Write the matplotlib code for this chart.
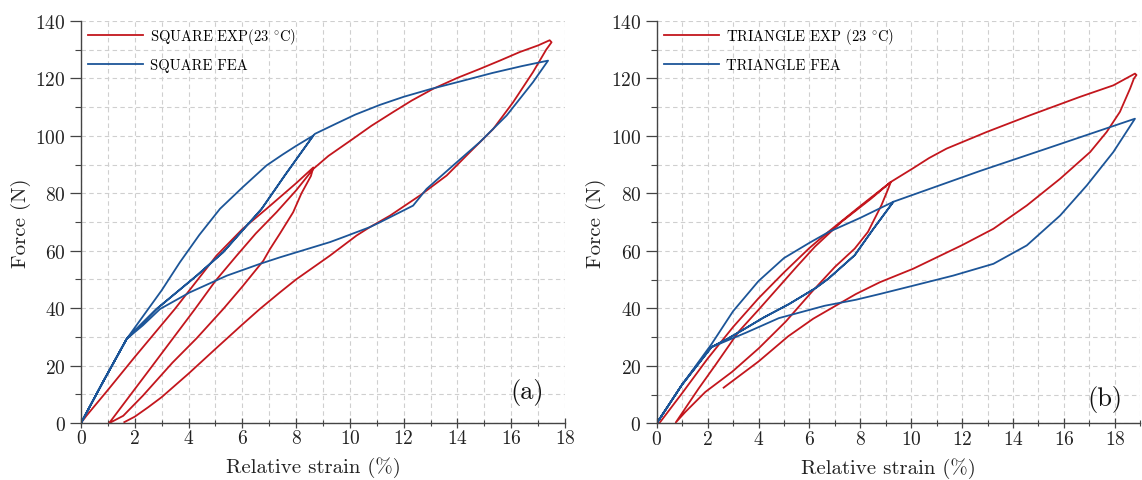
import matplotlib
matplotlib.use("Agg")
import matplotlib.pyplot as plt
from matplotlib.ticker import MultipleLocator

plt.rcParams['font.family'] = ['cmr10', 'DejaVu Serif']
plt.rcParams['mathtext.fontset'] = 'cm'
plt.rcParams['axes.formatter.use_mathtext'] = True

# ---------------- data: (a) square ----------------
sq_exp_x = [0, 0.2, 1, 2, 3.49, 5.04, 6.0, 6.9, 8.0, 8.64,
            8.55, 8.2, 7.89, 7.4, 7.03, 6.78, 6.0, 5.29, 4.3, 3.4, 2.3, 1.57, 1.1,
            1.05, 2.5, 4.24, 5.0, 5.79, 6.5, 7.27, 8.0, 8.64,
            9.2, 10.12, 10.8, 11.61, 12.3, 13.1, 14.0, 14.83, 15.6, 16.32, 17.0, 17.43, 17.5,
            17.3, 16.81, 16.07, 15.33, 14.46, 13.6, 12.6, 11.49, 10.74, 10.25,
            9.26, 8.0, 7.4, 6.65, 6.0, 5.0, 4.0, 3.0, 2.5, 2.0, 1.61]
sq_exp_y = [0, 2.5, 11.5, 23, 39.7, 58.3, 67.5, 74.6, 83.5, 89,
            86, 80, 73.4, 66, 60.6, 56.5, 47.5, 39.7, 29.5, 21, 9.5, 2.5, 0.2,
            0, 18, 39.7, 49.5, 58.3, 66, 73.4, 81, 88.5,
            93, 99, 103.5, 108.3, 112.3, 116.4, 120.2, 123.3, 126.3, 129.2, 131.5, 133.3, 132.6,
            130, 122.2, 111.7, 102.4, 94.3, 86.2, 79.2, 72.2, 68.2, 65.3,
            58.3, 50, 45.5, 39.7, 34.3, 25.8, 17.2, 9, 5.5, 2.2, 0.3]

sq_fea_x = [0, 0.8, 1.7, 2.5, 3.0, 3.68, 4.4, 5.17, 6.0, 6.9, 7.5, 8.0, 8.64,
            7.6, 6.72, 5.29, 4.3, 2.81, 2.2, 1.7, 0.8, 0,
            0.8, 1.7, 2.2, 2.81, 4.3, 5.29, 6.72, 7.6, 8.64,
            8.7, 9.5, 10.2, 11.12, 12.0, 13.0, 14.0, 15.3, 16.4, 17.37,
            16.81, 15.83, 14.83, 13.84, 12.85, 12.35, 11.12, 10.74, 9.75,
            9.26, 7.4, 6.65, 5.42, 4.05, 2.94, 2.3, 1.7, 0.8, 0]
sq_fea_y = [0, 14, 29.3, 39.7, 46.2, 56, 65.5, 74.6, 82, 89.7, 93.5, 96.5, 100.1,
            86.5, 74.6, 59.5, 51.3, 39.7, 34, 29.3, 14, 0,
            14, 29.3, 34, 39.7, 51.3, 59.5, 74.6, 86.5, 100.1,
            100.7, 104.3, 107.4, 110.8, 113.6, 116.3, 118.7, 121.9, 124.3, 126.2,
            118.7, 107.1, 97.8, 89.7, 81.5, 75.7, 69.9, 68.2, 64.7,
            63, 57.7, 55.4, 51.3, 45.5, 39.7, 34, 29.3, 14, 0]

# ---------------- data: (b) triangle ----------------
tri_exp_x = [0.1, 1, 2, 3, 4, 5, 6, 6.74, 8.04, 9.2,
             9.1, 8.83, 8.3, 7.78, 7.0, 6.09, 5.07, 4.01, 2.96, 1.91, 1.12, 0.75,
             1.64, 2.3, 3.22, 4.0, 4.8, 5.5, 6.22, 7.26, 8.44, 9.2,
             10.08, 10.7, 11.39, 12.97, 14.67, 16.63, 17.94, 18.79, 18.85,
             18.75, 18.6, 18.2, 17.68, 17.03, 15.85, 14.54, 13.23, 12.0,
             10.08, 8.77, 7.83, 6.15, 5.17, 4.0, 2.63]
tri_exp_y = [0, 10.5, 22.5, 33.5, 43.5, 52.5, 61, 66.6, 75.9, 84,
             81.7, 75.9, 66.6, 60.8, 54.4, 45.7, 35.4, 26.1, 17.9, 10.9, 3.9, 0.3,
             12, 20.2, 31.9, 39.5, 47.5, 54.5, 61.5, 70.1, 78.3, 84,
             88.8, 92.3, 95.6, 101.4, 107.2, 113.6, 117.6, 121.7, 121.2,
             120, 116.5, 108.4, 101.4, 94.4, 85.1, 75.8, 67.7, 62,
             53.8, 49.1, 45, 36.4, 30.3, 21.5, 12.4]

tri_fea_x = [0, 1, 2.15, 3, 4, 5, 6, 6.74, 8, 9.3,
             8.5, 7.78, 6.74, 6.25, 5.2, 4.2, 3.48, 2.8, 2.15, 1, 0,
             1, 2.15, 2.8, 3.48, 4.2, 5.2, 6.25, 6.74, 7.78, 8.5, 9.3,
             12.7, 15.32, 18.79,
             17.94, 16.9, 15.85, 14.54, 13.23, 11.65, 10.08, 8.77, 7.83, 6.6,
             4.8, 3.5, 2.15, 1, 0]
tri_fea_y = [0, 13.5, 27.5, 39, 49.5, 57.5, 62.8, 66.5, 71.5, 77.1,
             67.5, 58.5, 50.3, 47.1, 41.5, 36.8, 33, 29.5, 26.5, 13.5, 0,
             13.5, 26.5, 29.5, 33, 36.8, 41.5, 47.1, 50.3, 58.5, 67.5, 77.1,
             87.8, 95.6, 106,
             94.4, 82.8, 72.3, 61.9, 55.5, 51.4, 47.9, 45, 43, 40.9,
             36.6, 31.5, 26.5, 13.5, 0]

x_ticks_a = [0, 2, 4, 6, 8, 10, 12, 14, 16, 18]
x_ticks_b = [0, 2, 4, 6, 8, 10, 12, 14, 16, 18]
y_ticks = [0, 20, 40, 60, 80, 100, 120, 140]

RED = '#c3161d'
BLUE = '#1c5598'
GRID = '#cfcfcf'

W, H = 1142, 481
fig = plt.figure(figsize=(W / 100, H / 100), dpi=100)
axL = fig.add_axes([81 / W, (H - 424) / H, 484 / W, 402 / H])
axR = fig.add_axes([656.7 / W, (H - 424.3) / H, 483.6 / W, 402.3 / H])


def style(ax, xmax, xticks, tag, tagx, tagy):
    ax.set_xlim(0, xmax)
    ax.set_ylim(0, 140)
    ax.set_xticks(xticks)
    ax.set_yticks(y_ticks)
    ax.xaxis.set_minor_locator(MultipleLocator(1))
    ax.yaxis.set_minor_locator(MultipleLocator(10))
    ax.grid(True, which='both', color=GRID, linestyle=(0, (4, 3)), linewidth=0.8)
    ax.set_axisbelow(True)
    for s in ('top', 'right'):
        ax.spines[s].set_visible(False)
    for s in ('left', 'bottom'):
        ax.spines[s].set_color('#444444')
        ax.spines[s].set_linewidth(1.0)
    ax.tick_params(axis='y', which='major', direction='out', length=8, width=0.9,
                   labelsize=14, pad=3, colors='#444444', labelcolor='#222222')
    ax.tick_params(axis='y', which='minor', direction='out', length=4.5, width=0.8,
                   colors='#444444')
    ax.tick_params(axis='x', which='major', direction='inout', length=7, width=0.9,
                   labelsize=14, pad=1, colors='#444444', labelcolor='#222222')
    ax.tick_params(axis='x', which='minor', direction='inout', length=5, width=0.8,
                   colors='#444444')
    ax.set_xlabel('Relative strain (%)', fontsize=15, color='#222222')
    ax.set_ylabel('Force (N)', fontsize=15, color='#222222')
    ax.xaxis.set_label_coords(0.48, -0.083)
    ax.yaxis.set_label_coords(-0.104, 0.5)
    ax.text(tagx, tagy, tag, ha='center', va='center', fontsize=19, color='#111111')
    ax.legend(loc='upper left', bbox_to_anchor=(0.0145, 0.988), frameon=False,
              fontsize=10.5, handlelength=3.8, handletextpad=0.45,
              labelspacing=0.85, borderaxespad=0, borderpad=0)


axL.plot(sq_exp_x, sq_exp_y, color=RED, lw=1.3, label='SQUARE EXP(23 $^{\\circ}$C)')
axL.plot(sq_fea_x, sq_fea_y, color=BLUE, lw=1.3, label='SQUARE FEA')
style(axL, 18, x_ticks_a, '(a)', 16.6, 10.8)

axR.plot(tri_exp_x, tri_exp_y, color=RED, lw=1.3, label='TRIANGLE EXP (23 $^{\\circ}$C)')
axR.plot(tri_fea_x, tri_fea_y, color=BLUE, lw=1.3, label='TRIANGLE FEA')
style(axR, 19, x_ticks_b, '(b)', 17.6, 8.5)

fig.savefig('out.png', dpi=100)
